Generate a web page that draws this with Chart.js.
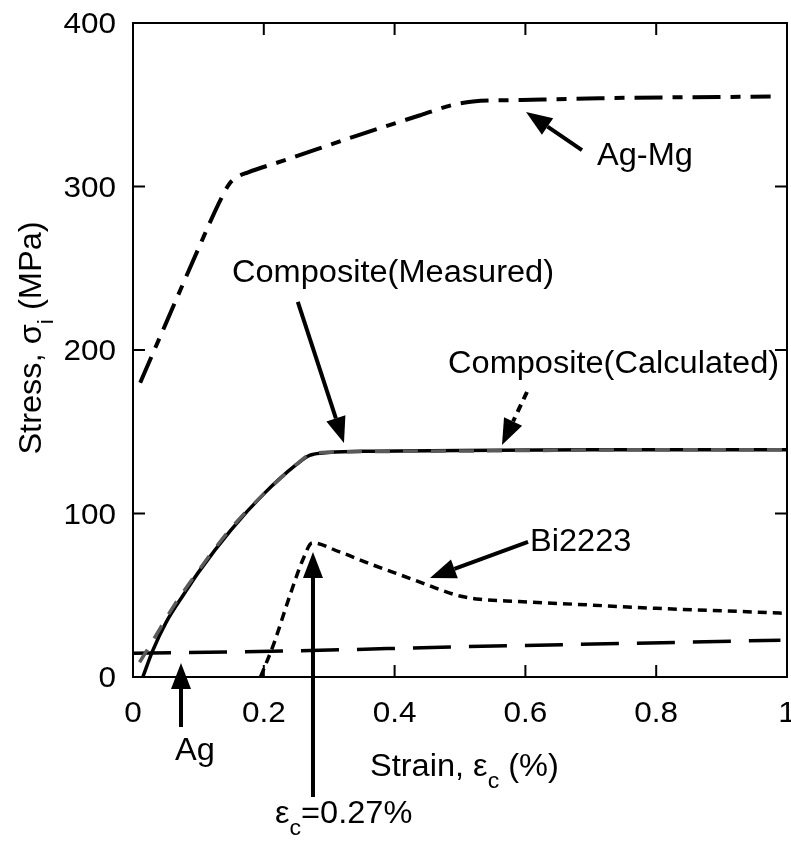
<!DOCTYPE html>
<html lang="en">
<head>
<meta charset="UTF-8">
<title>Stress vs Strain</title>
<script src="https://cdn.jsdelivr.net/npm/chart.js"></script>
<style>
    body { margin: 0; background: #fff; }
    canvas { display: block; }
</style>
</head>
<body>
<canvas id="stressChart" width="791" height="841"></canvas>
<script>
// strain (%) / stress (MPa)
const agMgX = [0.011, 0.05, 0.1, 0.134, 0.148, 0.16, 0.175, 0.236, 0.338, 0.44, 0.49, 0.52, 0.594, 0.714, 0.975];
const agMgY = [180, 216, 262, 292, 302, 306, 308.5, 316.6, 330.5, 343.7, 350, 352, 352.9, 354, 355];

const measuredX = [0.015, 0.03, 0.05, 0.08, 0.1, 0.15, 0.2, 0.25, 0.27, 0.29, 0.35, 0.5, 0.7, 1];
const measuredY = [0, 16, 33, 52, 64, 90, 112, 130, 135.5, 137, 138, 138.5, 139, 139];

const calculatedX = [0.01, 0.03, 0.06, 0.1, 0.15, 0.2, 0.25, 0.27, 0.3, 0.4, 0.6, 0.8, 1];
const calculatedY = [9, 22, 42, 65, 91, 112, 130, 136, 137.5, 138, 138.5, 139, 139];

const biX = [0.195, 0.215, 0.24, 0.26, 0.274, 0.316, 0.367, 0.429, 0.469, 0.5, 0.53, 0.59, 0.7, 0.8, 0.9, 0.995];
const biY = [0, 20, 50, 72, 82, 76.5, 68.5, 59.5, 53.5, 49.5, 47.5, 46.2, 44, 42, 40.5, 39];

const agX = [0, 0.25, 0.5, 0.75, 0.99];
const agY = [14.5, 16, 18.5, 20.5, 22.5];

const xTicks = [0, 0.2, 0.4, 0.6, 0.8, 1];
const xTickLabels = ["0", "0.2", "0.4", "0.6", "0.8", "1"];
const yTicks = [0, 100, 200, 300, 400];
const yTickLabels = ["0", "100", "200", "300", "400"];

// labels and arrows, in data units
const notes = [
    { text: [["Ag-Mg"]], x: 0.7095, y: 313, from: [0.6865, 322.3], to: [0.601, 345.6] },
    { text: [["Composite(Measured)"]], x: 0.1514, y: 241.6, from: [0.252, 229.4], to: [0.3226, 143.1] },
    { text: [["Composite(Calculated)"]], x: 0.4817, y: 185.9, from: [0.6024, 174.3], to: [0.5642, 141.9], dashed: true },
    { text: [["Bi2223"]], x: 0.607, y: 77.1, from: [0.604, 82.6], to: [0.4541, 60.6] },
    { text: [["Ag"]], x: 0.0642, y: -50.8, from: [0.0734, -30.6], to: [0.0734, 8.6] },
    { text: [["ε"], ["c", true], ["=0.27%"]], x: 0.2171, y: -89.3, from: [0.2752, -73.4], to: [0.2752, 76.5] }
];

const FONT = "'Liberation Sans', Arial, sans-serif";
const STRETCH = 1.05; // the figure's lettering is a little wider than Arial

function richWidth(ctx, parts) {
    let w = 0;
    parts.forEach(p => {
        ctx.font = (p[1] ? "22px " : "31px ") + FONT;
        w += ctx.measureText(p[0]).width * STRETCH;
    });
    return w;
}

function drawText(ctx, text, x, y) {
    ctx.save();
    ctx.translate(x, y);
    ctx.scale(STRETCH, 1);
    ctx.fillText(text, 0, 0);
    ctx.restore();
}

function drawRich(ctx, parts, x, y) {
    parts.forEach(p => {
        ctx.font = (p[1] ? "22px " : "31px ") + FONT;
        drawText(ctx, p[0], x, p[1] ? y + 12 : y);
        x += ctx.measureText(p[0]).width * STRETCH;
    });
}

function toPoints(xs, ys) {
    return xs.map((x, i) => ({ x: x, y: ys[i] }));
}

function drawArrow(ctx, x1, y1, x2, y2, dashed) {
    const ang = Math.atan2(y2 - y1, x2 - x1);
    const len = 26, half = 10;
    const bx = x2 - len * Math.cos(ang), by = y2 - len * Math.sin(ang);
    ctx.save();
    ctx.lineWidth = 4;
    ctx.setLineDash(dashed ? [8, 6] : []);
    ctx.beginPath();
    ctx.moveTo(x1, y1);
    ctx.lineTo(bx, by);
    ctx.stroke();
    ctx.setLineDash([]);
    ctx.beginPath();
    ctx.moveTo(x2, y2);
    ctx.lineTo(bx + half * Math.sin(ang), by - half * Math.cos(ang));
    ctx.lineTo(bx - half * Math.sin(ang), by + half * Math.cos(ang));
    ctx.closePath();
    ctx.fill();
    ctx.restore();
}

const framePlugin = {
    id: "frame",
    afterDraw(chart) {
        const ctx = chart.ctx;
        const a = chart.chartArea;
        const xs = chart.scales.x, ys = chart.scales.y;
        ctx.save();
        ctx.strokeStyle = "#000";
        ctx.fillStyle = "#000";
        ctx.lineWidth = 2;
        ctx.strokeRect(a.left, a.top, a.right - a.left, a.bottom - a.top);

        ctx.beginPath();
        xTicks.forEach(v => {
            const px = xs.getPixelForValue(v);
            ctx.moveTo(px, a.bottom); ctx.lineTo(px, a.bottom - 12);
            ctx.moveTo(px, a.top); ctx.lineTo(px, a.top + 12);
        });
        yTicks.forEach(v => {
            const py = ys.getPixelForValue(v);
            ctx.moveTo(a.left, py); ctx.lineTo(a.left + 12, py);
            ctx.moveTo(a.right, py); ctx.lineTo(a.right - 12, py);
        });
        ctx.stroke();

        ctx.font = "30px " + FONT;
        ctx.textBaseline = "alphabetic";
        ctx.textAlign = "left";
        xTicks.forEach((v, i) => {
            const w = ctx.measureText(xTickLabels[i]).width * STRETCH;
            drawText(ctx, xTickLabels[i], xs.getPixelForValue(v) - w / 2, a.bottom + 45);
        });
        yTicks.forEach((v, i) => {
            const w = ctx.measureText(yTickLabels[i]).width * STRETCH;
            drawText(ctx, yTickLabels[i], a.left - 17 - w, ys.getPixelForValue(v) + 10);
        });

        drawRich(ctx, [["Strain, ε"], ["c", true], [" (%)"]], 370, a.bottom + 99);

        const yTitle = [["Stress, σ"], ["i", true], [" (MPa)"]];
        ctx.save();
        ctx.translate(41, 338);
        ctx.rotate(-Math.PI / 2);
        drawRich(ctx, yTitle, -richWidth(ctx, yTitle) / 2, 0);
        ctx.restore();

        notes.forEach(n => {
            drawRich(ctx, n.text, xs.getPixelForValue(n.x), ys.getPixelForValue(n.y));
            drawArrow(ctx,
                xs.getPixelForValue(n.from[0]), ys.getPixelForValue(n.from[1]),
                xs.getPixelForValue(n.to[0]), ys.getPixelForValue(n.to[1]), n.dashed);
        });
        ctx.restore();
    }
};

new Chart(document.getElementById("stressChart"), {
    type: "scatter",
    data: {
        datasets: [
            { label: "Ag-Mg", data: toPoints(agMgX, agMgY), borderColor: "#000", borderWidth: 4, borderDash: [28, 10, 10, 10], order: 3 },
            { label: "Composite(Measured)", data: toPoints(measuredX, measuredY), borderColor: "#000", borderWidth: 3.5, order: 2 },
            { label: "Composite(Calculated)", data: toPoints(calculatedX, calculatedY), borderColor: "#5a5a5a", borderWidth: 3.5, borderDash: [15, 13], order: 1 },
            { label: "Bi2223", data: toPoints(biX, biY), borderColor: "#000", borderWidth: 3.5, borderDash: [9, 6], order: 3 },
            { label: "Ag", data: toPoints(agX, agY), borderColor: "#000", borderWidth: 3.5, borderDash: [38, 18], order: 3 }
        ].map(d => Object.assign(d, { showLine: true, pointRadius: 0, fill: false, cubicInterpolationMode: "monotone" }))
    },
    options: {
        responsive: false,
        animation: false,
        layout: { padding: { left: 133, top: 23, right: 4, bottom: 164 } },
        plugins: { legend: { display: false }, tooltip: { enabled: false } },
        scales: {
            x: { type: "linear", min: 0, max: 1, display: false },
            y: { type: "linear", min: 0, max: 400, display: false }
        }
    },
    plugins: [framePlugin]
});
</script>
</body>
</html>
